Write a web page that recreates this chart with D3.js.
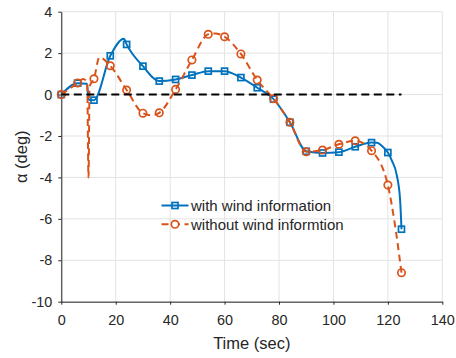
<!DOCTYPE html>
<html>
<head>
<meta charset="utf-8">
<script src="https://cdn.jsdelivr.net/npm/d3@7"></script>
<style>
  body { margin: 0; background: #fff; }
  svg { display: block; }
  text { font-family: "Liberation Sans", Arial, Helvetica, sans-serif; fill: #262626; }
</style>
</head>
<body>
<svg id="chart" width="456" height="358"></svg>
<script>
// Marker sample times (sec)
const markerTimes = [0, 6, 12, 18, 24, 30, 36, 42, 48, 54, 60, 66, 72, 78, 84, 90, 96, 102, 108, 114, 120, 125];
// Angle of attack at the marker times (deg)
const withWindMarkers = [0, 0.55, -0.27, 1.87, 2.42, 1.37, 0.65, 0.73, 0.94, 1.13, 1.13, 0.82, 0.33, -0.22, -1.34, -2.74, -2.82, -2.78, -2.52, -2.32, -2.8, -6.5];
const withoutWindMarkers = [0, 0.56, 0.76, 1.39, 0.22, -0.9, -0.88, 0.25, 1.67, 2.91, 2.79, 1.96, 0.7, -0.2, -1.34, -2.76, -2.68, -2.4, -2.23, -2.71, -4.37, -8.6];

// Full trajectories [time, alpha]
const withWindPath = [
  [0, 0], [6, 0.55], [9.4, 0.52], [10.1, -0.25], [12, -0.27], [18, 1.87], [23, 2.7], [24, 2.42],
  [30, 1.37], [36, 0.65], [42, 0.73], [48, 0.94], [54, 1.13], [60, 1.13], [66, 0.82], [72, 0.33],
  [78, -0.22], [84, -1.34], [90, -2.74], [96, -2.82], [102, -2.78], [108, -2.52], [114, -2.32],
  [116, -2.33], [118, -2.5], [120, -2.8], [121.5, -3.2], [123.2, -3.85], [124.5, -5.1], [125, -6.5]
];
const withoutWindPath = [
  [0, 0], [6, 0.56], [8, 0.75], [9.5, 0.6], [10, -4], [10.4, 0.4], [12, 0.76], [14, 1.8], [18, 1.39],
  [24, 0.22], [30, -0.9], [33, -1.0], [36, -0.88], [42, 0.25], [48, 1.67], [54, 2.91], [56.5, 2.95],
  [60, 2.79], [66, 1.96], [72, 0.7], [78, -0.2], [84, -1.34], [90, -2.76], [96, -2.68], [102, -2.4],
  [108, -2.23], [114, -2.71], [120, -4.37], [122.5, -6.2], [125, -8.6]
];
// Zero reference
const zeroRef = [[0, 0], [125, 0]];

const xTicks = [0, 20, 40, 60, 80, 100, 120, 140];
const yTicks = [-10, -8, -6, -4, -2, 0, 2, 4];
const seriesNames = ["with wind information", "without wind informtion"];
const seriesColors = ["#0072BD", "#D95319"];

const svg = d3.select("#chart");
const x = d3.scaleLinear().domain([0, 140]).range([61.3, 442.3]);
const y = d3.scaleLinear().domain([-10, 4]).range([301.7, 11.7]);

// Grid
const grid = svg.append("g").attr("stroke", "#e3e3e3").attr("stroke-width", 1);
grid.selectAll("line.v").data(xTicks).join("line")
  .attr("x1", d => x(d)).attr("x2", d => x(d))
  .attr("y1", y(-10)).attr("y2", y(4));
grid.selectAll("line.h").data(yTicks).join("line")
  .attr("x1", x(0)).attr("x2", x(140))
  .attr("y1", d => y(d)).attr("y2", d => y(d));

// Axes (plain hyphen for negative labels)
const fmt = d => String(d);
const xAxis = svg.append("g").attr("transform", `translate(0,${y(-10)})`)
  .call(d3.axisBottom(x).tickValues(xTicks).tickFormat(fmt).tickSize(3).tickSizeOuter(0).tickPadding(10));
const yAxis = svg.append("g").attr("transform", `translate(${x(0)},0)`)
  .call(d3.axisLeft(y).tickValues(yTicks).tickFormat(fmt).tickSize(3).tickSizeOuter(0).tickPadding(6));
[xAxis, yAxis].forEach(g => {
  g.select(".domain").attr("stroke", "#262626");
  g.selectAll(".tick line").attr("stroke", "#262626");
  g.selectAll(".tick text").attr("font-size", 14.4).attr("fill", "#262626")
    .style("font-family", '"Liberation Sans", Arial, sans-serif');
});

// Axis titles
svg.append("text").attr("x", x(70)).attr("y", 349).attr("text-anchor", "middle")
  .attr("font-size", 16.5).text("Time (sec)");
svg.append("text").attr("transform", `translate(27,${y(-3)}) rotate(-90)`)
  .attr("text-anchor", "middle").attr("font-size", 16.5).text("α (deg)");

const line = d3.line().x(d => x(d[0])).y(d => y(d[1])).curve(d3.curveMonotoneX);

// with wind information
svg.append("path").datum(withWindPath).attr("d", line)
  .attr("fill", "none").attr("stroke", seriesColors[0]).attr("stroke-width", 2);
svg.append("g").selectAll("rect").data(markerTimes).join("rect")
  .attr("x", (d) => x(d) - 3).attr("y", (d, i) => y(withWindMarkers[i]) - 3)
  .attr("width", 6).attr("height", 6)
  .attr("fill", "none").attr("stroke", seriesColors[0]).attr("stroke-width", 1.7);

// without wind information
svg.append("path").datum(withoutWindPath).attr("d", line)
  .attr("fill", "none").attr("stroke", seriesColors[1]).attr("stroke-width", 2)
  .attr("stroke-dasharray", "7,4.5");
svg.append("g").selectAll("circle").data(markerTimes).join("circle")
  .attr("cx", d => x(d)).attr("cy", (d, i) => y(withoutWindMarkers[i]))
  .attr("r", 3.7)
  .attr("fill", "none").attr("stroke", seriesColors[1]).attr("stroke-width", 1.7);

// zero reference
svg.append("path").datum(zeroRef).attr("d", d3.line().x(d => x(d[0])).y(d => y(d[1])))
  .attr("fill", "none").attr("stroke", "#000").attr("stroke-width", 2)
  .attr("stroke-dasharray", "8,4.5");

// Legend
const legend = svg.append("g");
const ly = [205.5, 224.3];
seriesNames.forEach((name, i) => {
  const g = legend.append("g");
  g.append("line").attr("x1", 161.5).attr("x2", 188.5).attr("y1", ly[i]).attr("y2", ly[i])
    .attr("stroke", seriesColors[i]).attr("stroke-width", 2)
    .attr("stroke-dasharray", i === 1 ? "7,4.5" : null);
  if (i === 0) {
    g.append("rect").attr("x", 175 - 3).attr("y", ly[i] - 3).attr("width", 6).attr("height", 6)
      .attr("fill", "none").attr("stroke", seriesColors[i]).attr("stroke-width", 1.7);
  } else {
    g.append("circle").attr("cx", 175).attr("cy", ly[i]).attr("r", 3.7)
      .attr("fill", "#fff").attr("stroke", seriesColors[i]).attr("stroke-width", 1.7);
  }
  g.append("text").attr("x", 191).attr("y", ly[i]).attr("dy", "0.35em")
    .attr("font-size", 15).attr("fill", "#000").text(name);
});
</script>
</body>
</html>
